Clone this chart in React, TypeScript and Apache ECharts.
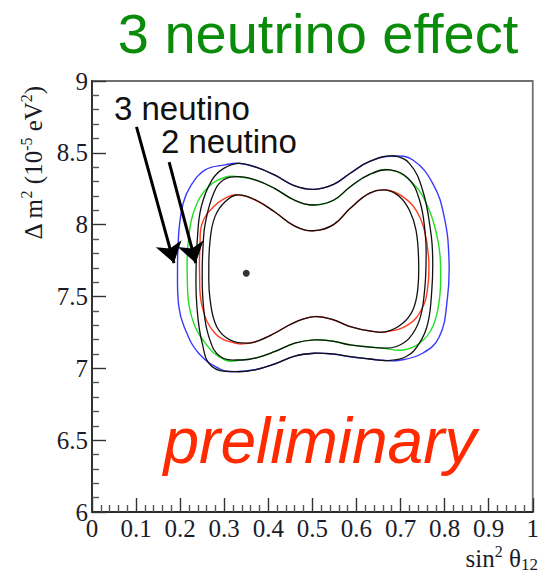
import React, { useEffect, useRef } from "react";
import * as echarts from "echarts";

// ---- axis ranges & tick labels ----
const xRange = [0, 1];
const xStep = 0.1;
const yRange = [6, 9];
const yStep = 0.5;
const xTickLabels = ["0", "0.1", "0.2", "0.3", "0.4", "0.5", "0.6", "0.7", "0.8", "0.9", "1"];
const yTickLabels = ["6", "6.5", "7", "7.5", "8", "8.5", "9"];

// ---- best fit point ----
const bestFit: number[] = [0.35, 7.662];

// ---- arrows (start, tip) ----
const arrow3nu: number[][] = [[0.101, 8.68], [0.186, 7.733]];
const arrow2nu: number[][] = [[0.175, 8.436], [0.2354, 7.733]];

// ---- 3 neutrino contours (coloured), closed loops ----
const blueContour: number[][] = [
  [0.194, 7.66], [0.197, 7.95], [0.207, 8.15], [0.224, 8.27], [0.257, 8.381], [0.302, 8.416],
  [0.332, 8.427], [0.372, 8.40], [0.414, 8.346], [0.460, 8.27], [0.504, 8.246], [0.548, 8.28],
  [0.586, 8.358], [0.630, 8.44], [0.683, 8.478], [0.728, 8.45], [0.773, 8.288], [0.799, 8.056],
  [0.810, 7.754], [0.806, 7.476], [0.788, 7.22], [0.750, 7.105], [0.698, 7.056], [0.660, 7.056],
  [0.630, 7.065], [0.586, 7.081], [0.545, 7.100], [0.504, 7.105], [0.460, 7.085], [0.414, 7.03],
  [0.370, 6.99], [0.325, 6.977], [0.294, 6.989], [0.242, 7.105], [0.209, 7.29], [0.197, 7.43],
];
const greenContour: number[][] = [
  [0.216, 7.66], [0.219, 7.90], [0.235, 8.125], [0.265, 8.265], [0.302, 8.33], [0.332, 8.334],
  [0.372, 8.31], [0.414, 8.253], [0.460, 8.17], [0.504, 8.137], [0.548, 8.17], [0.586, 8.264],
  [0.630, 8.35], [0.676, 8.381], [0.728, 8.288], [0.765, 8.102], [0.786, 7.87], [0.791, 7.685],
  [0.788, 7.476], [0.773, 7.29], [0.743, 7.175], [0.705, 7.128], [0.662, 7.14], [0.625, 7.15],
  [0.586, 7.163], [0.545, 7.19], [0.504, 7.198], [0.460, 7.175], [0.414, 7.116], [0.375, 7.075],
  [0.339, 7.058], [0.302, 7.058], [0.257, 7.175], [0.224, 7.383],
];
const redContour: number[][] = [
  [0.244, 7.66], [0.245, 7.85], [0.250, 8.01], [0.276, 8.125], [0.309, 8.195], [0.332, 8.207],
  [0.372, 8.17], [0.414, 8.09], [0.460, 7.99], [0.504, 7.958], [0.548, 8.00], [0.586, 8.114],
  [0.630, 8.22], [0.668, 8.241], [0.705, 8.195], [0.735, 8.102], [0.754, 7.963], [0.764, 7.754],
  [0.761, 7.546], [0.747, 7.406], [0.717, 7.302], [0.668, 7.255], [0.630, 7.26], [0.586, 7.29],
  [0.545, 7.34], [0.504, 7.36], [0.460, 7.32], [0.414, 7.244], [0.380, 7.195], [0.354, 7.175],
  [0.324, 7.175], [0.279, 7.244], [0.250, 7.43],
];

// ---- 2 neutrino contours (black), closed loops ----
const blackOuter: number[][] = [
  [0.236, 7.66], [0.239, 7.90], [0.248, 8.125], [0.272, 8.31], [0.298, 8.39], [0.332, 8.427],
  [0.372, 8.40], [0.414, 8.346], [0.460, 8.27], [0.504, 8.246], [0.548, 8.28], [0.586, 8.358],
  [0.630, 8.44], [0.683, 8.478], [0.720, 8.427], [0.750, 8.241], [0.769, 7.94], [0.773, 7.754],
  [0.771, 7.546], [0.762, 7.314], [0.743, 7.175], [0.713, 7.082], [0.672, 7.054], [0.630, 7.065],
  [0.586, 7.081], [0.545, 7.100], [0.504, 7.105], [0.460, 7.085], [0.414, 7.03], [0.370, 6.99],
  [0.325, 6.977], [0.272, 7.012], [0.250, 7.175], [0.238, 7.43],
];
const blackMiddle: number[][] = [
  [0.250, 7.66], [0.252, 7.85], [0.257, 8.01], [0.276, 8.218], [0.298, 8.311], [0.332, 8.334],
  [0.372, 8.31], [0.414, 8.253], [0.460, 8.17], [0.504, 8.137], [0.548, 8.17], [0.586, 8.264],
  [0.630, 8.35], [0.676, 8.381], [0.717, 8.323], [0.743, 8.172], [0.756, 7.94], [0.758, 7.754],
  [0.754, 7.523], [0.743, 7.337], [0.720, 7.21], [0.691, 7.152], [0.662, 7.14], [0.625, 7.15],
  [0.586, 7.163], [0.545, 7.19], [0.504, 7.198], [0.460, 7.175], [0.414, 7.116], [0.375, 7.075],
  [0.339, 7.058], [0.291, 7.082], [0.265, 7.221], [0.253, 7.43],
];
const blackInner: number[][] = [
  [0.265, 7.662], [0.268, 7.894], [0.279, 8.056], [0.302, 8.16], [0.332, 8.207], [0.372, 8.17],
  [0.414, 8.09], [0.460, 7.99], [0.504, 7.958], [0.548, 8.00], [0.586, 8.114], [0.630, 8.22],
  [0.668, 8.241], [0.698, 8.195], [0.720, 8.102], [0.735, 7.963], [0.741, 7.754], [0.739, 7.546],
  [0.728, 7.406], [0.705, 7.314], [0.668, 7.255], [0.630, 7.26], [0.586, 7.29], [0.545, 7.34],
  [0.504, 7.36], [0.460, 7.32], [0.414, 7.244], [0.380, 7.195], [0.354, 7.175], [0.313, 7.198],
  [0.283, 7.29], [0.268, 7.476],
];

const SERIF = "'Liberation Serif', 'Times New Roman', serif";
const SANS = "'Liberation Sans', Arial, sans-serif";

function contour(name: string, pts: number[][], color: string, width: number, z: number) {
  return {
    type: "custom",
    name,
    data: [pts[0]],
    silent: true,
    clip: false,
    z,
    renderItem: (_params: any, api: any) => ({
      type: "polygon",
      shape: {
        points: pts.map((p) => api.coord(p)),
        smooth: 0.42,
      },
      style: { fill: "none", stroke: color, lineWidth: width },
      silent: true,
    }),
  };
}

export default function App() {
  const ref = useRef<HTMLDivElement>(null);

  useEffect(() => {
    if (!ref.current) return;
    const chart = echarts.init(ref.current, undefined, { renderer: "svg" });

    const option = {
      animation: false,
      backgroundColor: "#ffffff",
      grid: {
        left: 92,
        right: 4,
        top: 81,
        bottom: 64,
        show: true,
        borderColor: "#707070",
        borderWidth: 1.8,
        backgroundColor: "transparent",
      },
      xAxis: {
        type: "value",
        min: xRange[0],
        max: xRange[1],
        interval: xStep,
        axisLine: { show: true, onZero: false, lineStyle: { color: "#2a2a2a", width: 1.8 } },
        axisTick: { show: true, inside: true, length: 14, lineStyle: { color: "#333", width: 1.4 } },
        minorTick: { show: true, splitNumber: 5, length: 7, lineStyle: { color: "#555", width: 1.4 } },
        splitLine: { show: false },
        axisLabel: {
          margin: 4,
          fontFamily: SERIF,
          fontSize: 25,
          color: "#1c1c28",
          formatter: (v: number) => xTickLabels[Math.round((v - xRange[0]) / xStep)] ?? "",
        },
      },
      yAxis: {
        type: "value",
        min: yRange[0],
        max: yRange[1],
        interval: yStep,
        axisLine: { show: true, onZero: false, lineStyle: { color: "#2a2a2a", width: 1.8 } },
        axisTick: { show: true, inside: true, length: 14, lineStyle: { color: "#333", width: 1.4 } },
        minorTick: { show: true, splitNumber: 5, length: 7, lineStyle: { color: "#555", width: 1.4 } },
        splitLine: { show: false },
        axisLabel: {
          margin: 4,
          fontFamily: SERIF,
          fontSize: 25,
          color: "#1c1c28",
          formatter: (v: number) => yTickLabels[Math.round((v - yRange[0]) / yStep)] ?? "",
        },
      },
      series: [
        contour("3ν 99.73%", blueContour, "#3a3aff", 1.4, 2),
        contour("3ν 95%", greenContour, "#22dd22", 1.4, 2),
        contour("3ν 90%", redContour, "#ff3a1e", 1.4, 2),
        contour("2ν 99.73%", blackOuter, "#111111", 1.3, 3),
        contour("2ν 95%", blackMiddle, "#111111", 1.3, 3),
        contour("2ν 90%", blackInner, "#111111", 1.3, 3),
        {
          type: "scatter",
          name: "best fit",
          data: [bestFit],
          symbolSize: 7,
          itemStyle: { color: "#000" },
          silent: true,
          z: 5,
          markLine: {
            silent: true,
            symbol: ["none", "arrow"],
            symbolSize: 20,
            label: { show: false },
            lineStyle: { color: "#000", width: 3, type: "solid" },
            emphasis: { disabled: true },
            data: [
              [{ coord: arrow3nu[0] }, { coord: arrow3nu[1] }],
              [{ coord: arrow2nu[0] }, { coord: arrow2nu[1] }],
            ],
          },
        },
      ],
      graphic: [
        {
          type: "text",
          x: 318,
          y: 33,
          style: {
            text: "3 neutrino effect",
            fontFamily: SANS,
            fontSize: 56,
            fill: "#0a8c0a",
            align: "center",
            verticalAlign: "middle",
          },
        },
        {
          type: "text",
          x: 114,
          y: 108,
          style: {
            text: "3 neutino",
            fontFamily: SANS,
            fontSize: 33,
            fill: "#111",
            align: "left",
            verticalAlign: "middle",
          },
        },
        {
          type: "text",
          x: 161,
          y: 141,
          style: {
            text: "2 neutino",
            fontFamily: SANS,
            fontSize: 33,
            fill: "#111",
            align: "left",
            verticalAlign: "middle",
          },
        },
        {
          type: "text",
          x: 320,
          y: 441,
          style: {
            text: "preliminary",
            fontFamily: SANS,
            fontStyle: "italic",
            fontSize: 64,
            fill: "#ff2a00",
            align: "center",
            verticalAlign: "middle",
          },
        },
        {
          type: "text",
          x: 538,
          y: 558,
          style: {
            text: "{n|sin}{s|2}{n| θ}{b|12}",
            align: "right",
            verticalAlign: "middle",
            fill: "#1c1c28",
            rich: {
              n: { fontFamily: SERIF, fontSize: 25, lineHeight: 30, fill: "#1c1c28" },
              s: { fontFamily: SERIF, fontSize: 16, lineHeight: 12, verticalAlign: "top", fill: "#1c1c28" },
              b: { fontFamily: SERIF, fontSize: 17, lineHeight: 18, verticalAlign: "bottom", fill: "#1c1c28" },
            },
          },
        },
        {
          type: "text",
          x: 33,
          y: 163,
          rotation: Math.PI / 2,
          style: {
            text: "{n|Δ m}{s|2}{n| (10}{s|-5}{n| eV}{s|2}{n|)}",
            align: "center",
            verticalAlign: "middle",
            fill: "#1c1c28",
            rich: {
              n: { fontFamily: SERIF, fontSize: 25, lineHeight: 30, fill: "#1c1c28" },
              s: { fontFamily: SERIF, fontSize: 16, lineHeight: 12, verticalAlign: "top", fill: "#1c1c28" },
            },
          },
        },
      ],
    };

    chart.setOption(option as any);
    return () => chart.dispose();
  }, []);

  return (
    <div
      ref={ref}
      style={{ position: "fixed", left: 0, top: 0, width: 542, height: 576, background: "#fff" }}
    />
  );
}
